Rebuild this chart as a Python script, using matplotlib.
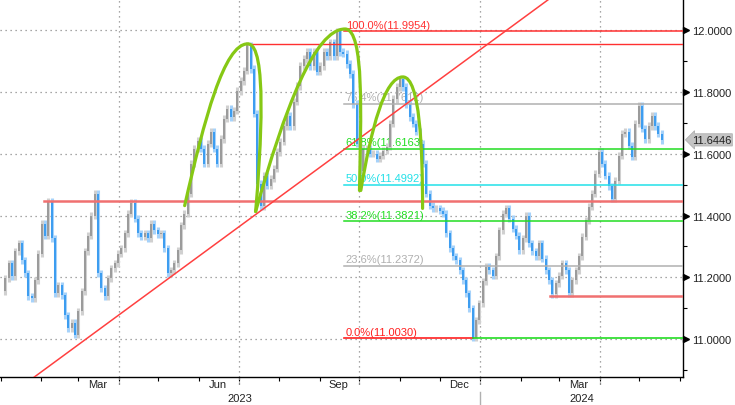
import numpy as np
import pandas as pd
import matplotlib
matplotlib.use("Agg")
import matplotlib.pyplot as plt
import matplotlib.dates as mdates
import matplotlib.transforms as mtrans
from matplotlib.path import Path
from matplotlib.patches import PathPatch

plt.rcParams["font.family"] = ["Liberation Sans", "DejaVu Sans"]

# closes, roughly every other trading day
close = [
    11.155, 11.197, 11.245, 11.203, 11.284, 11.310, 11.255, 11.213, 11.139, 11.132,
    11.190, 11.277, 11.374, 11.335, 11.445, 11.326, 11.148, 11.174, 11.142, 11.077,
    11.035, 11.052, 11.015, 11.090, 11.155, 11.284, 11.335, 11.400, 11.470, 11.213,
    11.165, 11.139, 11.197, 11.229, 11.245, 11.277, 11.294, 11.342, 11.406, 11.440,
    11.390, 11.342, 11.332, 11.342, 11.326, 11.374, 11.352, 11.339, 11.342, 11.294,
    11.213, 11.223, 11.245, 11.287, 11.368,
    11.406, 11.471, 11.568, 11.616, 11.642, 11.616, 11.568, 11.632, 11.671, 11.616,
    11.568, 11.648, 11.713, 11.745, 11.719, 11.739, 11.803, 11.835, 11.868, 11.950,
    11.874, 11.729, 11.503, 11.430, 11.529, 11.497, 11.519, 11.552, 11.606, 11.639,
    11.690, 11.723, 11.690, 11.768, 11.819, 11.884, 11.906, 11.929, 11.884, 11.929,
    11.865, 11.884, 11.929, 11.916, 11.960, 11.916, 11.995, 11.929, 11.923,
    11.890, 11.858, 11.761, 11.632, 11.545, 11.616, 11.616, 11.600, 11.600, 11.584,
    11.594, 11.610, 11.623, 11.697, 11.777, 11.816, 11.840, 11.816, 11.761, 11.719,
    11.697, 11.671, 11.632, 11.568, 11.471, 11.432, 11.423, 11.423, 11.416, 11.406,
    11.342, 11.294, 11.268, 11.255, 11.223, 11.190, 11.148, 11.100, 11.005, 11.061,
    11.116, 11.187, 11.235, 11.223, 11.206, 11.268, 11.352, 11.406, 11.423, 11.390,
    11.358, 11.335, 11.287, 11.326, 11.400, 11.310, 11.284, 11.268, 11.310, 11.261,
    11.223, 11.190, 11.145, 11.181, 11.206, 11.245, 11.223, 11.150, 11.190, 11.223,
    11.268, 11.332, 11.384, 11.429, 11.471, 11.535, 11.605, 11.568, 11.529, 11.494,
    11.455, 11.513, 11.594, 11.665, 11.671, 11.626, 11.590, 11.697, 11.755, 11.681,
    11.648, 11.690, 11.723, 11.690, 11.665, 11.6446,
]
dates = pd.date_range("2023-01-02", "2024-05-18", periods=len(close))
last_price = 11.6446

fib_pct = ["100.0%", "76.4%", "61.8%", "50.0%", "38.2%", "23.6%", "0.0%"]
fib_val = [11.9954, 11.7612, 11.6163, 11.4992, 11.3821, 11.2372, 11.0030]
fib_col = ["#ff3030", "#b0b0b0", "#22dd22", "#22e0e8", "#22dd22", "#b0b0b0", "#ff2020"]
fib_start = "2023-09-19"
fib_zero_red_end = "2023-12-26"

support_val = [11.955, 11.446, 11.140]
support_start = ["2023-07-08", "2023-02-03", "2024-02-23"]
support_lw = [1.0, 1.8, 1.8]
support_col = ["#ff3030", "#f07070", "#f07070"]

trend_dates = ["2023-01-01", "2024-03-01"]
trend_vals = [10.798, 12.124]

# hand drawn humps: start, ctrl, ctrl, top, ctrl, ctrl, end
arcs = [
    [("2023-05-21", 11.432), ("2023-06-05", 11.713), ("2023-06-20", 11.955), ("2023-07-08", 11.955),
     ("2023-07-23", 11.955), ("2023-07-18", 11.616), ("2023-07-14", 11.413)],
    [("2023-07-14", 11.413), ("2023-08-05", 11.745), ("2023-08-28", 12.003), ("2023-09-20", 12.003),
     ("2023-10-05", 12.003), ("2023-10-02", 11.713), ("2023-10-01", 11.481)],
    [("2023-10-02", 11.481), ("2023-10-10", 11.681), ("2023-10-20", 11.848), ("2023-11-03", 11.848),
     ("2023-11-16", 11.848), ("2023-11-18", 11.616), ("2023-11-18", 11.423)],
]

quarters = ["2023-04-01", "2023-07-01", "2023-10-01", "2024-01-01", "2024-04-01"]
month_labels = ["Mar", "Jun", "Sep", "Dec", "Mar"]
month_label_dates = ["2023-03-16", "2023-06-15", "2023-09-15", "2023-12-16", "2024-03-16"]
years = ["2023", "2024"]

fig = plt.figure(figsize=(7.35, 4.06), dpi=100)
ax = fig.add_axes([0.0, 0.069, 0.929, 0.931])
x0 = pd.Timestamp("2022-12-31 12:00")
x1 = pd.Timestamp("2024-06-03")
ax.set_xlim(x0, x1)
ax.set_ylim(10.878, 12.1)

# grid
dot = (0, (1, 3))
for v in np.arange(11.0, 12.01, 0.2):
    ax.axhline(v, color="#8a8a8a", lw=0.9, ls=dot, zorder=0)
for q in quarters:
    ax.axvline(pd.Timestamp(q), color="#8a8a8a", lw=0.9, ls=dot, zorder=0)
    ax.plot([pd.Timestamp(q)] * 2, [0, -0.022], color="#8a8a8a", lw=0.9, ls=(0, (2, 2)),
            transform=ax.get_xaxis_transform(), clip_on=False)

# bars from previous close to close, with a paler wick
c = np.array(close)
lo = np.minimum(c[:-1], c[1:])
hi = np.maximum(c[:-1], c[1:])
up = c[1:] >= c[:-1]
light = np.where(up, "#d0d0d0", "#a6d2fa")
dark = np.where(up, "#9a9a9a", "#3b9cf0")
ax.vlines(dates[1:], lo - 0.012, hi + 0.012, colors=light, lw=2.2, zorder=2)
ax.vlines(dates[1:], lo, hi, colors=dark, lw=1.4, zorder=3)

# fib levels
for p, v, col in zip(fib_pct, fib_val, fib_col):
    start = pd.Timestamp(fib_start)
    if p == "0.0%":
        ax.plot([start, pd.Timestamp(fib_zero_red_end)], [v, v], color="#ff2020", lw=1.2, zorder=4)
        ax.plot([pd.Timestamp(fib_zero_red_end), x1], [v, v], color="#22dd22", lw=1.2, zorder=4)
    else:
        ax.plot([start, x1], [v, v], color=col, lw=1.1, zorder=4)
    ax.annotate(f"{p}({v:.4f})", (start, v), xytext=(1.5, 1), textcoords="offset points",
                color=col, fontsize=8, ha="left", va="bottom", zorder=1)

for v, s, lw, col in zip(support_val, support_start, support_lw, support_col):
    ax.plot([pd.Timestamp(s), x1], [v, v], color=col, lw=lw, zorder=4)

ax.plot(pd.to_datetime(trend_dates), trend_vals, color="#ff4040", lw=1.1, zorder=4)

for arc in arcs:
    verts = [(mdates.date2num(pd.Timestamp(d)), v) for d, v in arc]
    codes = [Path.MOVETO] + [Path.CURVE4] * 6
    ax.add_patch(PathPatch(Path(verts, codes), fc="none", ec="#86c814", lw=2.3,
                           capstyle="round", zorder=5))

# axes styling
for s in ["top", "left"]:
    ax.spines[s].set_visible(False)
ax.spines["right"].set_linewidth(1.0)
ax.spines["bottom"].set_linewidth(1.0)

ax.yaxis.tick_right()
yt = np.arange(11.0, 12.01, 0.2)
ax.set_yticks(yt)
ax.set_yticklabels([f"{v:.4f}" for v in yt], fontsize=8, color="#222222")
ax.set_yticks(np.arange(10.9, 12.0, 0.2), minor=True)
ax.tick_params(axis="y", which="major", length=0, pad=6.5)
ax.tick_params(axis="y", which="minor", length=3, width=0.8, direction="out")
tri = mtrans.offset_copy(ax.get_yaxis_transform(), fig=fig, x=3.5, y=0, units="dots")
ax.plot([1] * len(yt), yt, ls="none", marker=">", ms=4.5, color="black",
        transform=tri, clip_on=False)

months = pd.date_range("2023-01-01", "2024-06-01", freq="MS")
ax.set_xticks(months, minor=True)
ax.set_xticks([])
ax.tick_params(axis="x", which="minor", length=3, width=0.8, direction="out")
ax.xaxis.set_minor_formatter(plt.NullFormatter())

for lab, d in zip(month_labels, month_label_dates):
    ax.annotate(lab, (pd.Timestamp(d), 0), xycoords=("data", "axes fraction"),
                xytext=(0, -5), textcoords="offset points", ha="center", va="center",
                fontsize=8, color="#222222")
ysep = pd.Timestamp("2024-01-01")
year_mid = [x0 + (ysep - x0) / 2, ysep + (x1 - ysep) / 2]
for lab, d in zip(years, year_mid):
    ax.annotate(lab, (d, 0), xycoords=("data", "axes fraction"),
                xytext=(0, -15), textcoords="offset points", ha="center", va="center",
                fontsize=8, color="#222222")
ax.plot([ysep, ysep], [-0.04, -0.08], color="#b0b0b0", lw=1.0,
        transform=ax.get_xaxis_transform(), clip_on=False)

ax.annotate(f"{last_price:.4f}", (1, last_price), xycoords=("axes fraction", "data"),
            xytext=(6.5, 0), textcoords="offset points", ha="left", va="center",
            fontsize=8, color="#222222",
            bbox=dict(boxstyle="larrow,pad=0.1", fc="#c4c4c4", ec="#b0b0b0", lw=0.6))

fig.savefig("out.png", dpi=100, facecolor="white")
